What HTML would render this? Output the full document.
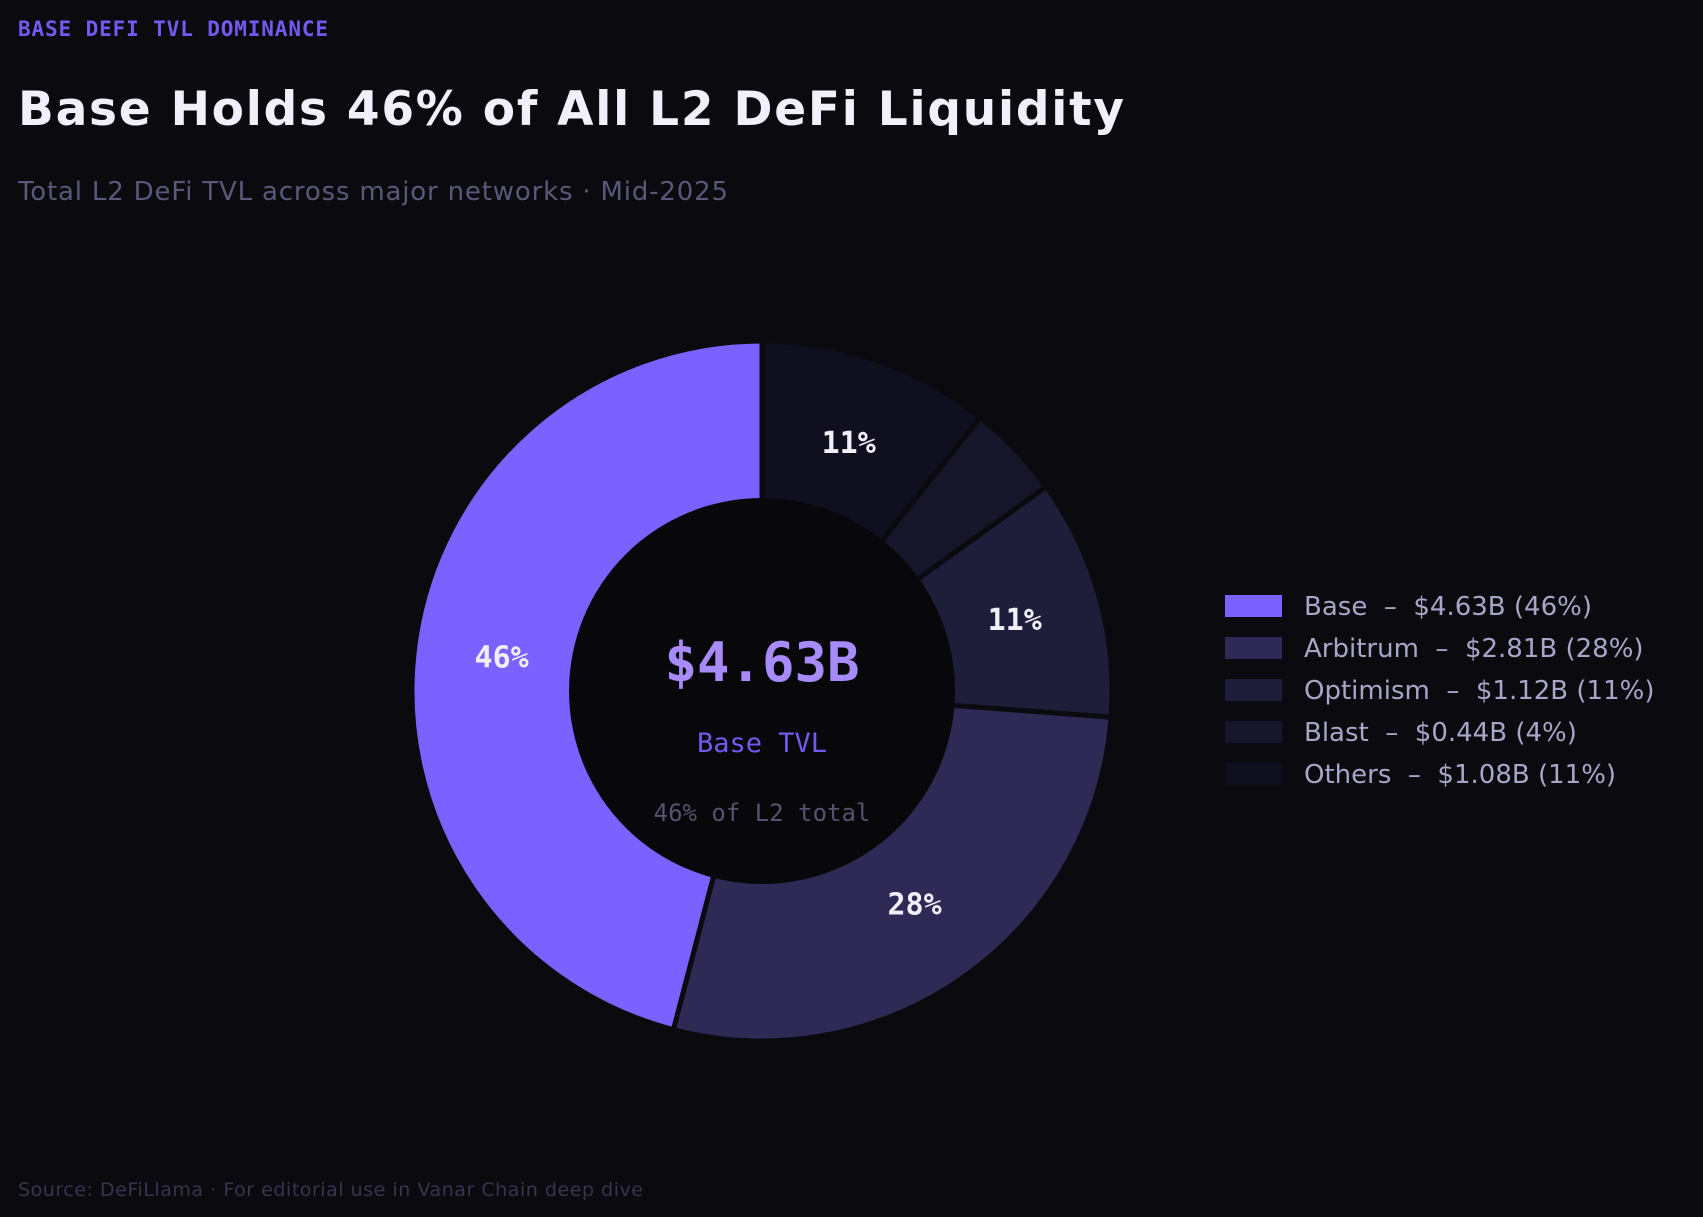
<!DOCTYPE html>
<html><head><meta charset="utf-8"><style>
html,body{margin:0;padding:0;background:#0b0b0f;}
svg{display:block}
</style></head><body>
<svg id="chart" width="1703" height="1217" viewBox="0 0 1703 1217" xmlns="http://www.w3.org/2000/svg">
<rect width="1703" height="1217" fill="#0b0b0f"/>
<text x="18" y="36" font-family="'DejaVu Sans Mono','Liberation Mono',monospace" font-weight="bold" font-size="21" fill="#7459f0" textLength="310">BASE DEFI TVL DOMINANCE</text>
<text x="18" y="125" font-family="'DejaVu Sans','Liberation Sans',sans-serif" font-weight="bold" font-size="47" fill="#f1f0fa" textLength="1106">Base Holds 46% of All L2 DeFi Liquidity</text>
<text x="18" y="200" font-family="'DejaVu Sans','Liberation Sans',sans-serif" font-size="26" fill="#5a5878" textLength="710">Total L2 DeFi TVL across major networks · Mid-2025</text>
<g id="slices"></g>
<g id="legend"></g>
<text x="18" y="1196" font-family="'DejaVu Sans','Liberation Sans',sans-serif" font-size="19" fill="#36344f" textLength="625">Source: DeFiLlama · For editorial use in Vanar Chain deep dive</text>
</svg>
<script>
const categories = ["Base","Arbitrum","Optimism","Blast","Others"];
const values = [4.63, 2.81, 1.12, 0.44, 1.08];
const pctLabels = ["46%","28%","11%","4%","11%"];
const colors = ["#7b61ff","#2e2a55","#1f1e3a","#16152a","#100f20"];
const centerValue = "$4.63B";

const NS="http://www.w3.org/2000/svg";
const g=document.getElementById('slices');
const lg=document.getElementById('legend');
const cx=762, cy=691, R=350, r=193;
const total=values.reduce((a,b)=>a+b,0);
function pt(rad,deg){const a=deg*Math.PI/180;return [cx+rad*Math.cos(a), cy-rad*Math.sin(a)];}
let ang=90;
values.forEach((v,i)=>{
  const sweep=v/total*360;
  const a0=ang,a1=ang+sweep;
  const p0=pt(R,a0),p1=pt(R,a1);
  const large=sweep>180?1:0;
  const p=document.createElementNS(NS,'path');
  p.setAttribute('d',`M${cx},${cy} L${p0[0]},${p0[1]} A${R},${R} 0 ${large} 0 ${p1[0]},${p1[1]} Z`);
  p.setAttribute('fill',colors[i]);
  p.setAttribute('stroke','#0b0b0f');
  p.setAttribute('stroke-width','5');
  
  
  g.appendChild(p);
  if(v/total>0.05){
    const mid=(a0+a1)/2;
    const lp=pt(R*0.75,mid);
    const t=document.createElementNS(NS,'text');
    t.setAttribute('x',lp[0]);t.setAttribute('y',lp[1]+10);
    t.setAttribute('text-anchor','middle');
    t.setAttribute('font-family',"'DejaVu Sans Mono','Liberation Mono',monospace");
    t.setAttribute('font-weight','bold');t.setAttribute('font-size','30');
    t.setAttribute('fill','#f1f0fa');
    t.textContent=pctLabels[i];
    
    
    g.appendChild(t);
  }
  ang=a1;
  const y=595+i*42;
  const sw=document.createElementNS(NS,'rect');
  sw.setAttribute('x',1225);sw.setAttribute('y',y);sw.setAttribute('width',57);sw.setAttribute('height',22);
  sw.setAttribute('fill',colors[i]);
  
  
  lg.appendChild(sw);
  const lt=document.createElementNS(NS,'text');
  lt.setAttribute('x',1304);lt.setAttribute('y',y+20);
  lt.setAttribute('font-family',"'DejaVu Sans','Liberation Sans',sans-serif");
  lt.setAttribute('font-size','26');lt.setAttribute('fill','#a8a6c8');
  lt.setAttribute('style','white-space:pre');
  lt.textContent=`${categories[i]}\u00a0\u00a0–\u00a0\u00a0$${values[i].toFixed(2)}B (${pctLabels[i]})`;
  
  
  lg.appendChild(lt);
});
const hole=document.createElementNS(NS,'circle');
hole.setAttribute('cx',cx);hole.setAttribute('cy',cy);hole.setAttribute('r',r);hole.setAttribute('fill','#08080b');


g.appendChild(hole);
function ctext(txt,y,size,fill,bold,name){
  const t=document.createElementNS(NS,'text');
  t.setAttribute('x',cx);t.setAttribute('y',y);t.setAttribute('text-anchor','middle');
  t.setAttribute('font-family',"'DejaVu Sans Mono','Liberation Mono',monospace");
  t.setAttribute('font-size',size);t.setAttribute('fill',fill);
  if(bold)t.setAttribute('font-weight','bold');
  t.textContent=txt;
  
  
  g.appendChild(t);
}
ctext(centerValue,681,54,'#a78bfa',true,'center-value');
ctext('Base TVL',752,27,'#7459f0',false,'center-label');
ctext('46% of L2 total',821,24,'#55536f',false,'center-sublabel');
</script>
</body></html>
